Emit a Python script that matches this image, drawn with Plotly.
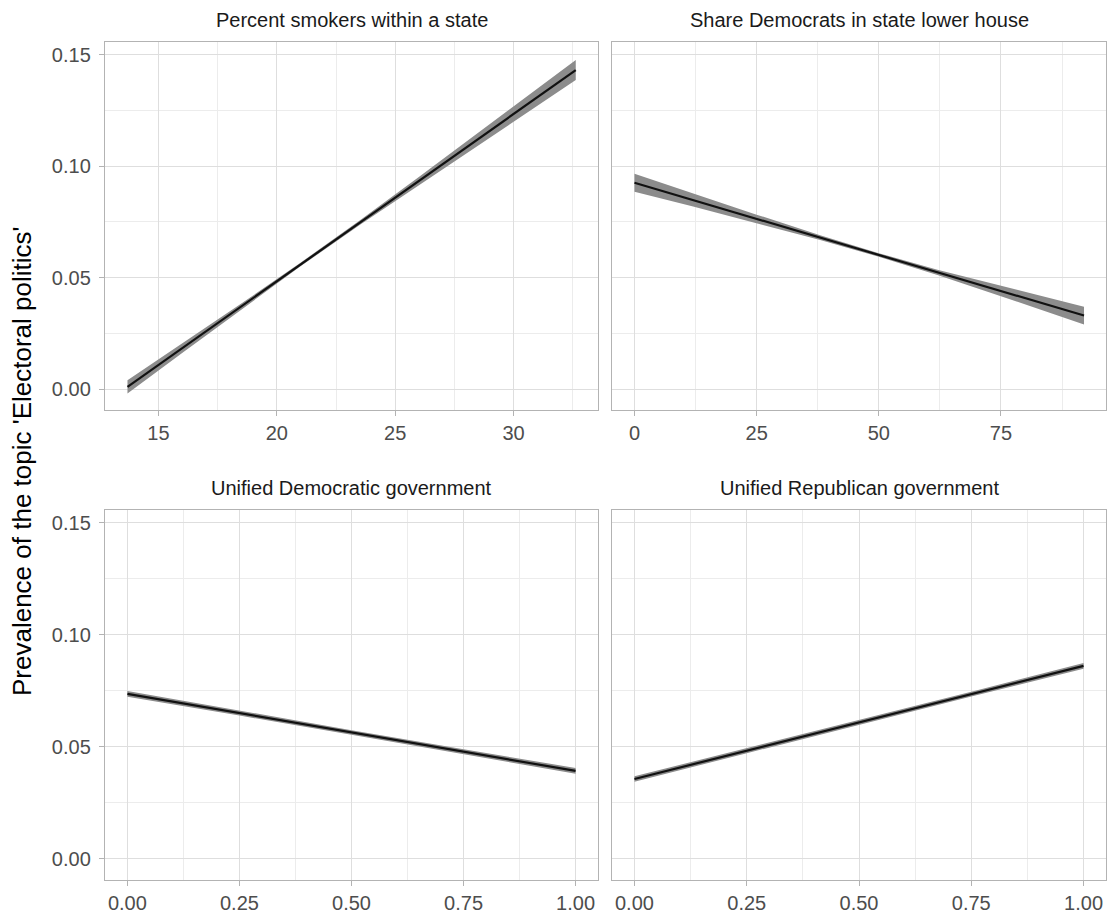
import plotly.graph_objects as go

# Predicted topic prevalence (mean with 95% interval) for four covariates
smokers_x = [13.69, 16.0, 18.5, 21.0, 23.5, 26.0, 28.5, 30.5, 32.63]
smokers_mean = [0.0010, 0.0183, 0.0371, 0.0559, 0.0747, 0.0934, 0.1122, 0.1272, 0.1432]
smokers_lo = [-0.0020, 0.0162, 0.0358, 0.0551, 0.0737, 0.0916, 0.1094, 0.1236, 0.1387]
smokers_hi = [0.0040, 0.0204, 0.0384, 0.0567, 0.0757, 0.0952, 0.1150, 0.1308, 0.1477]

dems_x = [0, 12, 25, 38, 50, 62, 75, 85, 92]
dems_mean = [0.0926, 0.0848, 0.0764, 0.0680, 0.0602, 0.0524, 0.0440, 0.0375, 0.0330]
dems_lo = [0.0886, 0.0819, 0.0745, 0.0669, 0.0594, 0.0512, 0.0417, 0.0343, 0.0290]
dems_hi = [0.0966, 0.0877, 0.0783, 0.0691, 0.0610, 0.0536, 0.0463, 0.0407, 0.0370]

unified_x = [0.0, 0.25, 0.5, 0.75, 1.0]
udem_mean = [0.0737, 0.0651, 0.0565, 0.0479, 0.0393]
udem_lo = [0.0724, 0.0640, 0.0555, 0.0468, 0.0380]
udem_hi = [0.0750, 0.0662, 0.0575, 0.0490, 0.0406]

urep_mean = [0.0357, 0.0483, 0.0610, 0.0736, 0.0862]
urep_lo = [0.0345, 0.0472, 0.0600, 0.0725, 0.0849]
urep_hi = [0.0369, 0.0494, 0.0620, 0.0747, 0.0875]

panel_titles = [
    "Percent smokers within a state",
    "Share Democrats in state lower house",
    "Unified Democratic government",
    "Unified Republican government",
]
y_title = "Prevalence of the topic 'Electoral politics'"
y_ticks = [0.00, 0.05, 0.10, 0.15]

W, H = 1114, 920
FONT = "Liberation Sans, Arial, sans-serif"
BORDER = "#b3b3b3"
GRID = "#dedede"
MINOR = "#ececec"
TICKTXT = "#4d4d4d"
RIBBON = "#8c8c8c"

# panel boxes in pixels: (left, right, top, bottom)
boxes = [(105, 598, 42, 410), (612, 1106, 42, 410),
         (105, 598, 510, 880), (612, 1106, 510, 880)]

panels = [
    (smokers_x, smokers_mean, smokers_lo, smokers_hi, [12.74, 33.57], 5, 2.5, None),
    (dems_x, dems_mean, dems_lo, dems_hi, [-4.6, 96.5], 25, 12.5, None),
    (unified_x, udem_mean, udem_lo, udem_hi, [-0.05, 1.05], 0.25, 0.125, ".2f"),
    (unified_x, urep_mean, urep_lo, urep_hi, [-0.05, 1.05], 0.25, 0.125, ".2f"),
]
y_range = [-0.0094, 0.1558]

fig = go.Figure()
layout = dict(
    width=W, height=H, margin=dict(l=0, r=0, t=0, b=0),
    paper_bgcolor="white", plot_bgcolor="white", showlegend=False,
    font=dict(family=FONT, size=20, color=TICKTXT),
)
annotations = []

for i, (xs, mean, lo, hi, xr, dt, mdt, fmt) in enumerate(panels):
    n = i + 1
    xa = "x" if n == 1 else f"x{n}"
    ya = "y" if n == 1 else f"y{n}"
    l, r, t, b = boxes[i]

    # confidence band as a closed polygon
    fig.add_trace(go.Scatter(
        x=list(xs) + list(xs)[::-1], y=list(hi) + list(lo)[::-1],
        fill="toself", fillcolor=RIBBON, line=dict(width=0),
        mode="lines", hoverinfo="skip", xaxis=xa, yaxis=ya))
    fig.add_trace(go.Scatter(
        x=xs, y=mean, mode="lines", line=dict(color="#111111", width=2.2),
        xaxis=xa, yaxis=ya))

    axis_common = dict(
        showline=True, mirror=True, linecolor=BORDER, linewidth=1.4,
        showgrid=True, gridcolor=GRID, gridwidth=1, zeroline=False,
        ticks="outside", ticklen=5, tickwidth=1, tickcolor=BORDER,
        tickfont=dict(family=FONT, size=20, color=TICKTXT),
    )
    xkey = "xaxis" if n == 1 else f"xaxis{n}"
    ykey = "yaxis" if n == 1 else f"yaxis{n}"
    xaxis = dict(axis_common, domain=[l / W, r / W], range=xr,
                 tick0=0, dtick=dt, anchor=ya,
                 minor=dict(dtick=mdt, tick0=0, showgrid=True,
                            gridcolor=MINOR, gridwidth=0.7))
    if fmt:
        xaxis["tickformat"] = fmt
    yaxis = dict(axis_common, domain=[1 - b / H, 1 - t / H], range=y_range,
                 tickvals=y_ticks, tickformat=".2f", anchor=xa,
                 showticklabels=(n in (1, 3)),
                 ticks="outside" if n in (1, 3) else "",
                 ticklabelstandoff=4,
                 minor=dict(dtick=0.025, tick0=0, showgrid=True,
                            gridcolor=MINOR, gridwidth=0.7))
    layout[xkey] = xaxis
    layout[ykey] = yaxis

    annotations.append(dict(
        text=panel_titles[i], x=(l + r) / 2 / W, y=1 - (t - 22) / H,
        xref="paper", yref="paper", showarrow=False,
        xanchor="center", yanchor="middle",
        font=dict(family=FONT, size=20, color="#1a1a1a")))

annotations.append(dict(
    text=y_title, x=22 / W, y=1 - 461 / H, xref="paper", yref="paper",
    showarrow=False, textangle=-90, xanchor="center", yanchor="middle",
    font=dict(family=FONT, size=26, color="#000000")))

layout["annotations"] = annotations
fig.update_layout(**layout)
fig.write_html("out.html")
